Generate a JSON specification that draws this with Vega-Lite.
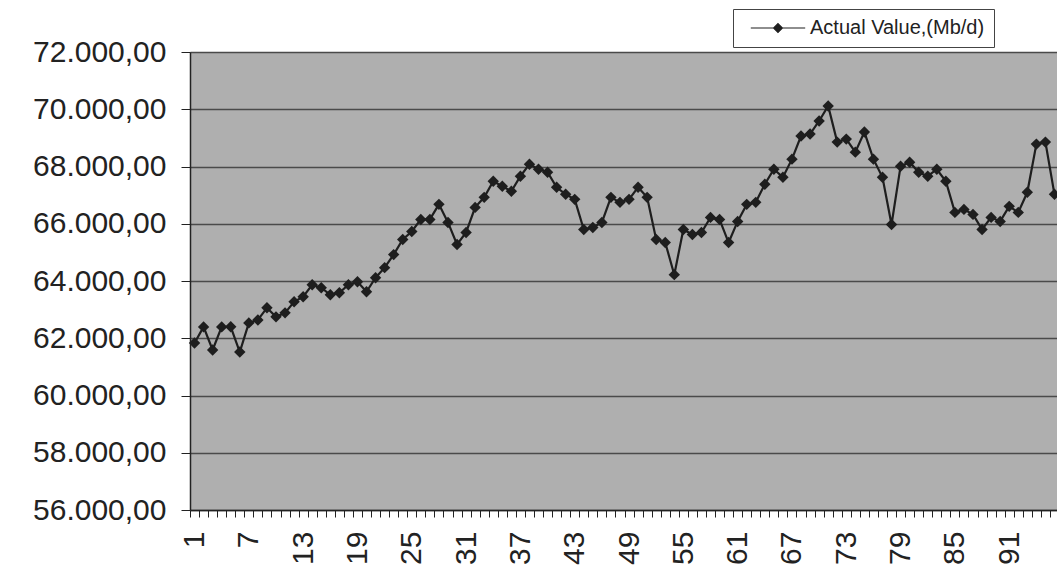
{
  "$schema": "https://vega.github.io/schema/vega-lite/v6.json",
  "autosize": "none",
  "padding": {"left": 190, "top": 52, "right": 0, "bottom": 63},
  "width": 869,
  "height": 458,
  "background": "white",
  "config": {
    "locale": {"number": {"decimal": ",", "thousands": ".", "grouping": [3], "currency": ["", ""]}},
    "font": "Liberation Sans",
    "view": {"fill": "#afafaf", "stroke": null},
    "axis": {"labelFont": "Liberation Sans", "labelColor": "#222222", "domainColor": "#222222", "tickColor": "#222222", "title": null}
  },
  "data": {"values": [
    {"t":1,"v":61835},{"t":2,"v":62396},{"t":3,"v":61589},{"t":4,"v":62396},{"t":5,"v":62400},{"t":6,"v":61519},{"t":7,"v":62537},{"t":8,"v":62640},{"t":9,"v":63063},{"t":10,"v":62747},
    {"t":11,"v":62888},{"t":12,"v":63274},{"t":13,"v":63449},{"t":14,"v":63870},{"t":15,"v":63765},{"t":16,"v":63519},{"t":17,"v":63589},{"t":18,"v":63870},{"t":19,"v":63975},{"t":20,"v":63624},
    {"t":21,"v":64116},{"t":22,"v":64467},{"t":23,"v":64923},{"t":24,"v":65449},{"t":25,"v":65730},{"t":26,"v":66151},{"t":27,"v":66151},{"t":28,"v":66677},{"t":29,"v":66046},{"t":30,"v":65274},
    {"t":31,"v":65695},{"t":32,"v":66572},{"t":33,"v":66923},{"t":34,"v":67484},{"t":35,"v":67309},{"t":36,"v":67135},{"t":37,"v":67660},{"t":38,"v":68081},{"t":39,"v":67905},{"t":40,"v":67800},
    {"t":41,"v":67274},{"t":42,"v":67028},{"t":43,"v":66853},{"t":44,"v":65800},{"t":45,"v":65870},{"t":46,"v":66046},{"t":47,"v":66923},{"t":48,"v":66747},{"t":49,"v":66853},{"t":50,"v":67274},
    {"t":51,"v":66923},{"t":52,"v":65449},{"t":53,"v":65344},{"t":54,"v":64221},{"t":55,"v":65800},{"t":56,"v":65625},{"t":57,"v":65695},{"t":58,"v":66221},{"t":59,"v":66151},{"t":60,"v":65344},
    {"t":61,"v":66081},{"t":62,"v":66677},{"t":63,"v":66747},{"t":64,"v":67379},{"t":65,"v":67905},{"t":66,"v":67625},{"t":67,"v":68256},{"t":68,"v":69063},{"t":69,"v":69133},{"t":70,"v":69590},
    {"t":71,"v":70116},{"t":72,"v":68853},{"t":73,"v":68958},{"t":74,"v":68502},{"t":75,"v":69204},{"t":76,"v":68256},{"t":77,"v":67625},{"t":78,"v":65975},{"t":79,"v":68011},{"t":80,"v":68151},
    {"t":81,"v":67800},{"t":82,"v":67660},{"t":83,"v":67905},{"t":84,"v":67484},{"t":85,"v":66397},{"t":86,"v":66502},{"t":87,"v":66326},{"t":88,"v":65800},{"t":89,"v":66221},{"t":90,"v":66081},
    {"t":91,"v":66607},{"t":92,"v":66397},{"t":93,"v":67098},{"t":94,"v":68783},{"t":95,"v":68853},{"t":96,"v":67028}
  ]},
  "mark": {"type": "line", "strokeWidth": 2.2, "point": {"shape": "diamond", "size": 130, "filled": true}},
  "encoding": {
    "x": {
      "field": "t", "type": "ordinal", "bandPosition": 0.5,
      "scale": {"type": "band", "paddingInner": 0, "paddingOuter": 0},
      "axis": {"labelAngle": -90, "labelFontSize": 30, "tickSize": 7, "tickBand": "extent", "labelPadding": 14, "domainWidth": 1.5,
               "labelExpr": "(datum.value - 1) % 6 == 0 ? datum.label : ''", "labelOverlap": false}
    },
    "y": {
      "field": "v", "type": "quantitative",
      "scale": {"domain": [56000, 72000], "nice": false, "zero": false},
      "axis": {"values": [56000, 58000, 60000, 62000, 64000, 66000, 68000, 70000, 72000], "format": ",.2f", "labelFontSize": 30,
               "tickSize": 9, "labelPadding": 15, "grid": true, "gridColor": "#4a4a4a", "gridWidth": 1.3, "domainWidth": 1.5}
    },
    "color": {
      "datum": "Actual Value,(Mb/d)", "type": "nominal",
      "scale": {"range": ["#1e1e1e"]},
      "legend": {"title": null, "orient": "none", "legendX": 543, "legendY": -43, "labelFontSize": 20, "labelColor": "#222222",
                 "labelFont": "Liberation Sans", "labelLimit": 400,
                 "symbolType": "M-6.8,0L6.8,0M0,-1.1L1.1,0L0,1.1L-1.1,0Z", "symbolSize": 64, "symbolStrokeWidth": 1.2,
                 "symbolFillColor": "#1e1e1e", "symbolStrokeColor": "#1e1e1e",
                 "symbolOffset": 26, "labelOffset": 22,
                 "strokeColor": "#444444", "fillColor": "white", "padding": 9}
    }
  }
}
